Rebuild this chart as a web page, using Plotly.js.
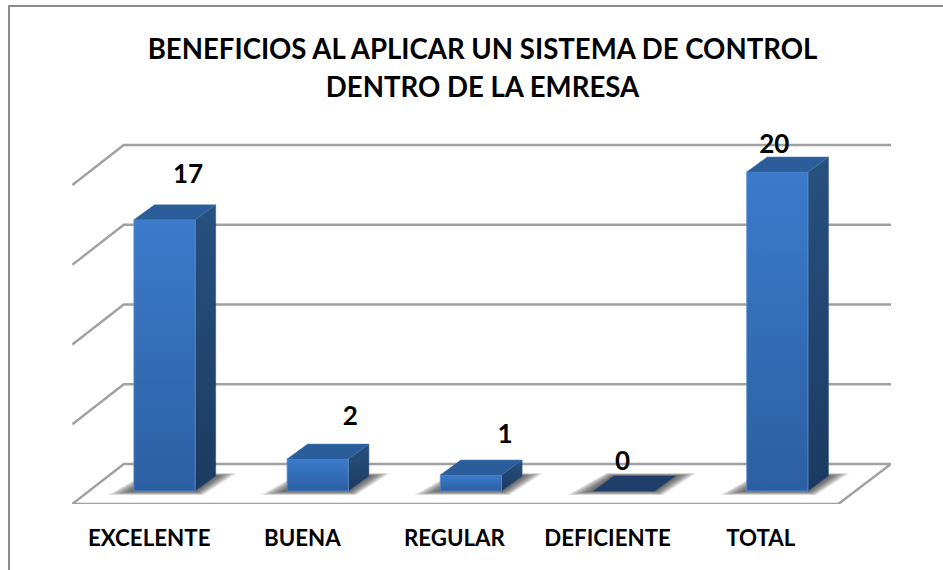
<!DOCTYPE html>
<html>
<head>
<meta charset="utf-8">
<script src="https://cdn.plot.ly/plotly-3.0.1.min.js"></script>
<style>html,body{margin:0;padding:0;background:#fff;overflow:hidden}</style>
</head>
<body>
<div id="chart" style="width:943px;height:570px"></div>
<script>
// ---- data ----
const categories = ['EXCELENTE', 'BUENA', 'REGULAR', 'DEFICIENTE', 'TOTAL'];
const values = [17, 2, 1, 0, 20];
const gridLevels = [0, 5, 10, 15, 20];

// ---- 3D projection, in axis units ----
const W = 943, H = 570;
const M = {l: 72, r: 52, t: 125, b: 66};
const xRange = [-0.604, 4.742];
const yRange = [-0.815, 22.947];
const barHalf = 0.2;        // half the width of a bar's front face
const barDX = 0.134, barDY = 0.94;   // depth offset of a bar
const wallDX = 0.336, wallDY = 2.505; // depth offset of the floor
const floorFront = -0.815;
const pos = categories.map((_, i) => i);

// hand-placed data labels, as offsets from the bar's front top centre
const labelDX = [0.153, 0.212, 0.222, -0.01, -0.02];
const labelDY = [2.72, 2.52, 2.39, 1.75, 1.57];
const tickShift = -0.1;

const FONT = 'Lato, Carlito, Calibri, sans-serif';
const traces = [];
const base = {type: 'scatter', showlegend: false, hoverinfo: 'skip', cliponaxis: false};

function poly(xs, ys, extra) {
  traces.push(Object.assign({}, base, {mode: 'lines', x: xs, y: ys, fill: 'toself', line: {width: 0}}, extra));
}
function vgrad(top, bottom) {
  return {type: 'vertical', colorscale: [[0, top], [1, bottom]]};
}

// wall and floor rules
gridLevels.forEach((lv, idx) => {
  const backY = floorFront + wallDY + lv;
  const frontY = floorFront + lv;
  const xs = [xRange[0] + 0.002, xRange[0] + 0.002 + wallDX, xRange[1]];
  const ys = [frontY, backY, backY];
  if (idx === 0) {
    xs.push(xRange[1] - wallDX - 0.008, xs[0]);
    ys.push(frontY, frontY);
  }
  traces.push(Object.assign({}, base, {mode: 'lines', x: xs, y: ys, line: {color: '#a0a0a0', width: 2.4}}));
});

// soft floor shadows
for (let k = 7; k >= 1; k--) {
  const xs = [], ys = [];
  pos.forEach(p => {
    const ex = 0.024 * k, eyB = 0.035 * k, eyT = 0.025 * k;
    xs.push(p - barHalf - ex, p + barHalf + ex * 0.3, p + barHalf + barDX + ex * 0.8, p - barHalf + barDX - ex * 0.3, p - barHalf - ex, null);
    ys.push(-eyB, -eyB, barDY + eyT, barDY + eyT, -eyB, null);
  });
  poly(xs, ys, {fillcolor: 'rgba(40,40,40,0.15)'});
}

// bars: side face, front face, top face
values.forEach((v, i) => {
  const l = pos[i] - barHalf, r = pos[i] + barHalf;
  if (v > 0) {
    poly([r, r + barDX, r + barDX, r, r], [0, barDY, v + barDY, v, 0],
      {fillgradient: vgrad('#1c3a61', '#27517f'), line: {width: 0.5, color: '#2b5587'}});
    poly([l, r, r, l, l], [0, 0, v, v, 0],
      {fillgradient: vgrad('#2c5fa2', '#3b7bcb'), line: {width: 0.8, color: '#5c8fce'}});
  }
  poly([l, r, r + barDX, l + barDX, l], [v, v, v + barDY, v + barDY, v],
    {fillcolor: v > 0 ? '#2b5d9a' : '#1f3f6a', line: {width: 0.5, color: v > 0 ? '#3f71ac' : '#1f3f6a'}});
});

// value labels
traces.push(Object.assign({}, base, {
  mode: 'text',
  x: pos.map((p, i) => p + labelDX[i]),
  y: values.map((v, i) => v + labelDY[i]),
  text: values.map(String),
  textposition: 'middle center',
  textfont: {family: FONT, size: 26, color: '#000', weight: 700}
}));

// reference frame, top and left only
const px = x => (x - M.l) / (W - M.l - M.r);
const py = y => 1 - (y - M.t) / (H - M.t - M.b);
const frameLine = {color: '#8c8c8c', width: 2};
const shapes = [
  {type: 'line', xref: 'paper', yref: 'paper', x0: px(9), x1: px(945), y0: py(6), y1: py(6), line: frameLine},
  {type: 'line', xref: 'paper', yref: 'paper', x0: px(9), x1: px(9), y0: py(5), y1: py(572), line: frameLine}
];

const titleLines = ['BENEFICIOS AL APLICAR UN SISTEMA DE CONTROL', 'DENTRO DE LA EMRESA'];

Plotly.newPlot('chart', traces, {
  width: W, height: H,
  margin: M,
  paper_bgcolor: '#fff', plot_bgcolor: '#fff',
  showlegend: false,
  title: {
    text: titleLines.map(t => '<span style="font-size:27.6px">' + t + '</span>').join('<br>'),
    x: (482.5 / W), xanchor: 'center', y: 1 - 59 / H, yanchor: 'top',
    font: {family: FONT, size: 29, color: '#000', weight: 700}
  },
  xaxis: {
    range: xRange, showgrid: false, zeroline: false, showline: false,
    tickmode: 'array', tickvals: pos.map(p => p + tickShift - (p > 1 ? 0.008 : 0)), ticktext: categories,
    ticks: 'outside', ticklen: 14, tickcolor: 'rgba(0,0,0,0)',
    tickfont: {family: FONT, size: 22.3, color: '#000', weight: 700}
  },
  yaxis: {range: yRange, showgrid: false, zeroline: false, showline: false, showticklabels: false, ticks: ''},
  shapes: shapes
}, {displayModeBar: false, staticPlot: true});
</script>
</body>
</html>
